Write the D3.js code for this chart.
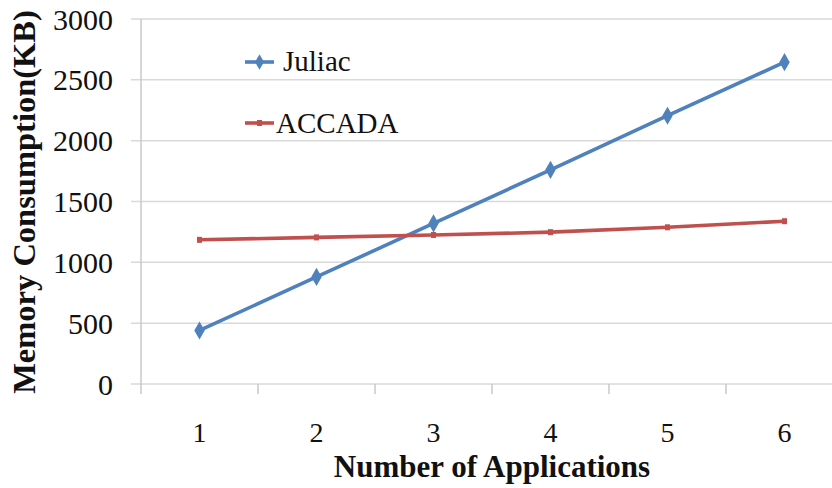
<!DOCTYPE html>
<html>
<head>
<meta charset="utf-8">
<script src="https://cdn.jsdelivr.net/npm/d3@7/dist/d3.min.js"></script>
<style>
  html, body { margin: 0; padding: 0; background: #fff; overflow: hidden; }
  svg { display: block; }
  text { font-family: "Liberation Serif", "Times New Roman", serif; fill: #111; }
</style>
</head>
<body>
<svg id="chart" width="832" height="488"></svg>
<script>
// Memory consumption vs. number of deployed applications
const categories = [1, 2, 3, 4, 5, 6];
const juliac = [440, 880, 1320, 1760, 2205, 2645];
const accada = [1185, 1205, 1225, 1248, 1288, 1338];
const yTicks = [0, 500, 1000, 1500, 2000, 2500, 3000];
const seriesNames = ["Juliac", "ACCADA"];
const seriesColors = ["#4f81bd", "#c0504d"];

const svg = d3.select("#chart");
const plotLeft = 141, plotTop = 19, plotBottom = 384, bandW = 117;

const x = d3.scaleBand()
  .domain(categories)
  .range([plotLeft, plotLeft + bandW * categories.length])
  .padding(0);
const y = d3.scaleLinear().domain([0, 3000]).range([plotBottom, plotTop]);
const cx = d => x(d) + x.bandwidth() / 2;

// horizontal gridlines (extend left of the axis as tick marks)
svg.append("g")
  .selectAll("line")
  .data(yTicks)
  .join("line")
  .attr("x1", plotLeft - 10).attr("x2", 832)
  .attr("y1", d => y(d)).attr("y2", d => y(d))
  .attr("stroke", "#d9d9d9").attr("stroke-width", 1.5);

// y axis line
svg.append("line")
  .attr("x1", plotLeft).attr("x2", plotLeft)
  .attr("y1", plotTop).attr("y2", plotBottom + 1)
  .attr("stroke", "#c8c8c8").attr("stroke-width", 1.5);

// x axis category separators
svg.append("g")
  .selectAll("line")
  .data(categories)
  .join("line")
  .attr("x1", d => x(d)).attr("x2", d => x(d))
  .attr("y1", plotBottom).attr("y2", plotBottom + 10)
  .attr("stroke", "#c8c8c8").attr("stroke-width", 1.5);

// y tick labels
svg.append("g")
  .selectAll("text")
  .data(yTicks)
  .join("text")
  .attr("x", 113)
  .attr("y", d => y(d))
  .attr("dy", "0.35em")
  .attr("text-anchor", "end")
  .attr("font-size", 30)
  .text(d => d);

// x tick labels
svg.append("g")
  .selectAll("text")
  .data(categories)
  .join("text")
  .attr("x", d => cx(d))
  .attr("y", 442)
  .attr("text-anchor", "middle")
  .attr("font-size", 28)
  .text(d => d);

// axis titles
svg.append("text")
  .attr("x", 492).attr("y", 477)
  .attr("text-anchor", "middle")
  .attr("font-size", 31)
  .attr("font-weight", "bold")
  .text("Number of Applications");

svg.append("text")
  .attr("transform", "translate(35,202) rotate(-90)")
  .attr("text-anchor", "middle")
  .attr("font-size", 32.5)
  .attr("font-weight", "bold")
  .text("Memory Consumption(KB)");

// series lines
const line = d3.line().x((d, i) => cx(categories[i])).y(d => y(d));
[juliac, accada].forEach((vals, k) => {
  svg.append("path")
    .datum(vals)
    .attr("d", line)
    .attr("fill", "none")
    .attr("stroke", seriesColors[k])
    .attr("stroke-width", 3.6)
    .attr("stroke-linejoin", "round");
});

// Juliac diamond markers
svg.append("g")
  .selectAll("path")
  .data(juliac)
  .join("path")
  .attr("transform", (d, i) => `translate(${cx(categories[i])},${y(d)})`)
  .attr("d", d3.symbol(d3.symbolDiamond, 95)())
  .attr("fill", seriesColors[0]);

// ACCADA square markers
svg.append("g")
  .selectAll("rect")
  .data(accada)
  .join("rect")
  .attr("x", (d, i) => cx(categories[i]) - 2.5)
  .attr("y", d => y(d) - 3)
  .attr("width", 5).attr("height", 6)
  .attr("fill", seriesColors[1]);

// legend
const legendRows = [{ y: 62, ty: 71, tx: 283 }, { y: 123, ty: 133, tx: 276 }];
seriesNames.forEach((name, k) => {
  const r = legendRows[k];
  svg.append("line")
    .attr("x1", 245).attr("x2", 274)
    .attr("y1", r.y).attr("y2", r.y)
    .attr("stroke", seriesColors[k]).attr("stroke-width", 3.6);
  if (k === 0) {
    svg.append("path")
      .attr("transform", `translate(259.5,${r.y})`)
      .attr("d", d3.symbol(d3.symbolDiamond, 70)())
      .attr("fill", seriesColors[0]);
  } else {
    svg.append("rect")
      .attr("x", 257).attr("y", r.y - 3)
      .attr("width", 5).attr("height", 6)
      .attr("fill", seriesColors[1]);
  }
  svg.append("text")
    .attr("x", r.tx).attr("y", r.ty)
    .attr("font-size", 29)
    .text(name);
});
</script>
</body>
</html>
